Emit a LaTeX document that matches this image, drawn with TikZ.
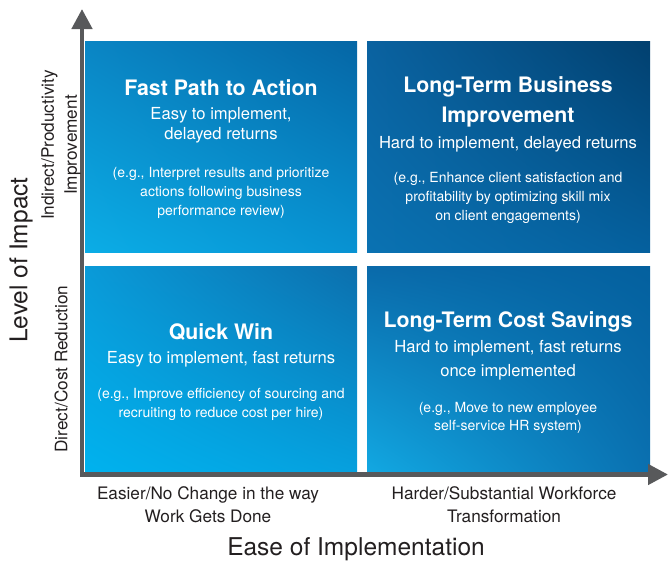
\documentclass[tikz,border=0pt]{standalone}
\usepackage{fontspec}
\setmainfont{TeX Gyre Heros}
\usetikzlibrary{arrows.meta,shadings}
\definecolor{axisgray}{HTML}{58595B}
\definecolor{labelgray}{HTML}{231F20}
\definecolor{tlLL}{HTML}{0BADE6}\definecolor{tlUR}{HTML}{0566A5}\definecolor{tlUL}{HTML}{0A85C4}\definecolor{tlLR}{HTML}{0892D2}
\definecolor{trLL}{HTML}{0A72B2}\definecolor{trUR}{HTML}{02406F}\definecolor{trUL}{HTML}{0A62A0}\definecolor{trLR}{HTML}{05609E}
\definecolor{blLL}{HTML}{00B2EE}\definecolor{blUR}{HTML}{0C6FAD}\definecolor{blUL}{HTML}{0A9AD8}\definecolor{blLR}{HTML}{06A0DE}
\definecolor{brLL}{HTML}{12A8E2}\definecolor{brUR}{HTML}{04609E}\definecolor{brUL}{HTML}{0A6AAA}\definecolor{brLR}{HTML}{0A70B0}
\tikzset{
  qtitle/.style={text=white, align=center, font={\bfseries\fontsize{21.3}{30}\selectfont}},
  qsub/.style={text=white, align=center, font={\fontsize{16.6}{20}\selectfont}},
  qex/.style={text=white, align=center, font={\fontsize{14}{19}\selectfont}},
  axlabel/.style={text=labelgray, align=center, font={\fontsize{17.2}{23}\selectfont}},
  axtitle/.style={text=labelgray, align=center, font={\fontsize{24.5}{28}\selectfont}},
  axisline/.style={draw=axisgray, line width=4.5pt, -{Triangle[width=20pt,length=20pt]}},
}
\begin{document}
\begin{tikzpicture}[x=1pt,y=-1pt]
\useasboundingbox (0,0) rectangle (669,562);
% quadrants
\shade[lower left=tlLL, upper right=tlUR, upper left=tlUL, lower right=tlLR] (85,41) rectangle (357,252);
\shade[lower left=trLL, upper right=trUR, upper left=trUL, lower right=trLR] (367,41) rectangle (650,252);
\shade[lower left=blLL, upper right=blUR, upper left=blUL, lower right=blLR] (85,266) rectangle (357,472);
\shade[lower left=brLL, upper right=brUR, upper left=brUL, lower right=brLR] (367,266) rectangle (650,472);
% axes
\coordinate (origin) at (82,476.5);
\coordinate (ytip) at (82,9);
\coordinate (xorigin) at (80,474.5);
\coordinate (xtip) at (668,474.5);
\draw[axisline] (origin) -- (ytip);
\draw[axisline] (xorigin) -- (xtip);
% quadrant texts
\node[qtitle] (tlT) at (221,88) {Fast Path to Action};
\node[qsub] (tlS) at (221,125) {Easy to implement,\\delayed returns};
\node[qex] (tlE) at (221,193) {(e.g., Interpret results and prioritize\\actions following business\\performance review)};
\node[qtitle] (trT) at (508,102) {Long-Term Business\\Improvement};
\node[qsub] (trS) at (508,144) {Hard to implement, delayed returns};
\node[qex] (trE) at (508,198) {(e.g., Enhance client satisfaction and\\profitability by optimizing skill mix\\on client engagements)};
\node[qtitle] (blT) at (221,332) {Quick Win};
\node[qsub] (blS) at (221,359) {Easy to implement, fast returns};
\node[qex] (blE) at (221,404) {(e.g., Improve efficiency of sourcing and\\recruiting to reduce cost per hire)};
\node[qtitle] (brT) at (508,322) {Long-Term Cost Savings};
\node[qsub, font={\fontsize{16.6}{24}\selectfont}] (brS) at (508,360) {Hard to implement, fast returns\\once implemented};
\node[qex, font={\fontsize{14}{18}\selectfont}] (brE) at (508,418) {(e.g., Move to new employee\\self-service HR system)};
% axis labels
\node[axlabel, rotate=90] (yhi) at (61,145) {Indirect/Productivity\\Improvement};
\node[axlabel, rotate=90] (ylo) at (61,369) {Direct/Cost Reduction};
\node[axtitle, rotate=90] (ytitle) at (21,260) {Level of Impact};
\node[axlabel] (xlo) at (208,505) {Easier/No Change in the way\\Work Gets Done};
\node[axlabel] (xhi) at (504,505) {Harder/Substantial Workforce\\Transformation};
\node[axtitle] (xtitle) at (356,549) {Ease of Implementation};
\end{tikzpicture}
\end{document}
